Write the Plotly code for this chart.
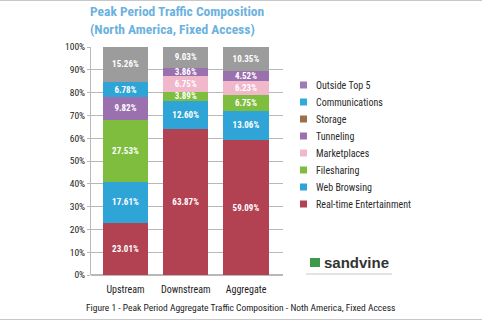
import plotly.graph_objects as go

categories = ["Upstream", "Downstream", "Aggregate"]

series_names = ["Real-time Entertainment", "Web Browsing", "Filesharing", "Marketplaces",
                "Tunneling", "Storage", "Communications", "Outside Top 5"]
real_time = [23.01, 63.87, 59.09]
web_browsing = [17.61, 12.60, 13.06]
filesharing = [27.53, 3.89, 6.75]
marketplaces = [None, 6.75, 6.23]
tunneling = [9.82, 3.86, 4.52]
storage = [None, None, None]
communications = [6.78, None, None]
outside_top5 = [15.26, 9.03, 10.35]
series_values = [real_time, web_browsing, filesharing, marketplaces,
                 tunneling, storage, communications, outside_top5]

bar_colors = ["#b24152", "#2ea5d6", "#7fbd3f", "#f1b7cb",
              "#9a70ae", "#9c7148", "#2ea5d6", "#9c9c9c"]
legend_colors = ["#b24152", "#2ea5d6", "#7fbd3f", "#f1b7cb",
                 "#9a70ae", "#9c7148", "#2fabd9", "#a07ab7"]

y_ticks = list(range(0, 101, 10))
y_tick_labels = [f"{v}%" for v in y_ticks]

W, H = 482, 321
L, R, T, B = 91, 283, 47, 275  # plot area pixels

NARROW = "Liberation Sans Narrow, Arial Narrow, Roboto Condensed, Liberation Sans, sans-serif"

fig = go.Figure()
for name, vals, col in zip(series_names, series_values, bar_colors):
    fig.add_trace(go.Bar(
        x=categories, y=vals, name=name, marker=dict(color=col, line=dict(width=0)),
        width=0.75, texttemplate="%{y:.2f}%", textposition="inside",
        insidetextanchor="middle",
        textfont=dict(color="white", size=9, family=NARROW, weight="bold"),
        showlegend=False, hoverinfo="x+y+name",
    ))

def px_x(px):
    return (px - L) / (R - L)

def px_y(py):
    return (B - py) / (B - T)

annotations = []
shapes = []
# manual legend (top entry first)
for i, idx in enumerate(reversed(range(len(series_names)))):
    cy = 85 + 17 * i
    shapes.append(dict(type="rect", xref="paper", yref="paper",
                       x0=px_x(300), x1=px_x(307), y0=px_y(cy + 3.5), y1=px_y(cy - 3.5),
                       fillcolor=legend_colors[idx], line=dict(width=0)))
    annotations.append(dict(xref="paper", yref="paper", x=px_x(314), y=px_y(cy),
                            xanchor="left", yanchor="middle", showarrow=False,
                            text=series_names[idx],
                            font=dict(size=10, color="#2a2a2a", family=NARROW)))

# title
annotations.append(dict(xref="paper", yref="paper", x=px_x(88), y=px_y(20),
                        xanchor="left", yanchor="middle", showarrow=False, align="left",
                        text="Peak Period Traffic Composition<br>(North America, Fixed Access)",
                        font=dict(size=13.5, color="#6cb2de", family=NARROW, weight="bold")))
# caption
annotations.append(dict(xref="paper", yref="paper", x=px_x(240), y=px_y(307),
                        xanchor="center", yanchor="middle", showarrow=False,
                        text="Figure 1 - Peak Period Aggregate Traffic Composition - Noth America, Fixed Access",
                        font=dict(size=9.5, color="#222222", family=NARROW)))
# logo
shapes.append(dict(type="rect", xref="paper", yref="paper",
                   x0=px_x(310), x1=px_x(320), y0=px_y(267), y1=px_y(258),
                   fillcolor="#3d9a4a", line=dict(width=0)))
annotations.append(dict(xref="paper", yref="paper", x=px_x(322), y=px_y(262),
                        xanchor="left", yanchor="middle", showarrow=False,
                        text="sandvine",
                        font=dict(size=15, color="#333333", family="Liberation Sans, Arial, sans-serif",
                                  weight="bold")))
shapes.append(dict(type="line", xref="paper", yref="paper",
                   x0=px_x(306), x1=px_x(392), y0=px_y(274), y1=px_y(274),
                   line=dict(color="#c8c8c8", width=1)))
# page border lines
shapes.append(dict(type="line", xref="paper", yref="paper",
                   x0=px_x(0), x1=px_x(482), y0=px_y(0.5), y1=px_y(0.5),
                   line=dict(color="#c8c8c8", width=1)))
shapes.append(dict(type="line", xref="paper", yref="paper",
                   x0=px_x(0), x1=px_x(482), y0=px_y(319.5), y1=px_y(319.5),
                   line=dict(color="#c8c8c8", width=1)))

fig.update_layout(
    width=W, height=H, barmode="stack",
    margin=dict(l=L, r=W - R, t=T, b=H - B, pad=0),
    paper_bgcolor="white", plot_bgcolor="white",
    showlegend=False,
    uniformtext=dict(minsize=9, mode="show"),
    annotations=annotations, shapes=shapes,
    xaxis=dict(range=[-0.573, 2.614], showgrid=False, showline=False, ticks="",
               ticklabelstandoff=7,
               tickfont=dict(size=10, color="#222222", family=NARROW), fixedrange=True),
    yaxis=dict(range=[0, 100], tickvals=y_ticks, ticktext=y_tick_labels,
               showgrid=True, gridcolor="#b8b8b8", gridwidth=1,
               showline=True, linecolor="#b8b8b8", linewidth=1,
               ticks="outside", ticklen=3, tickcolor="#b8b8b8",
               tickfont=dict(size=9.5, color="#222222", family=NARROW),
               zeroline=True, zerolinecolor="#b8b8b8", fixedrange=True),
)

fig.write_html("out.html")
